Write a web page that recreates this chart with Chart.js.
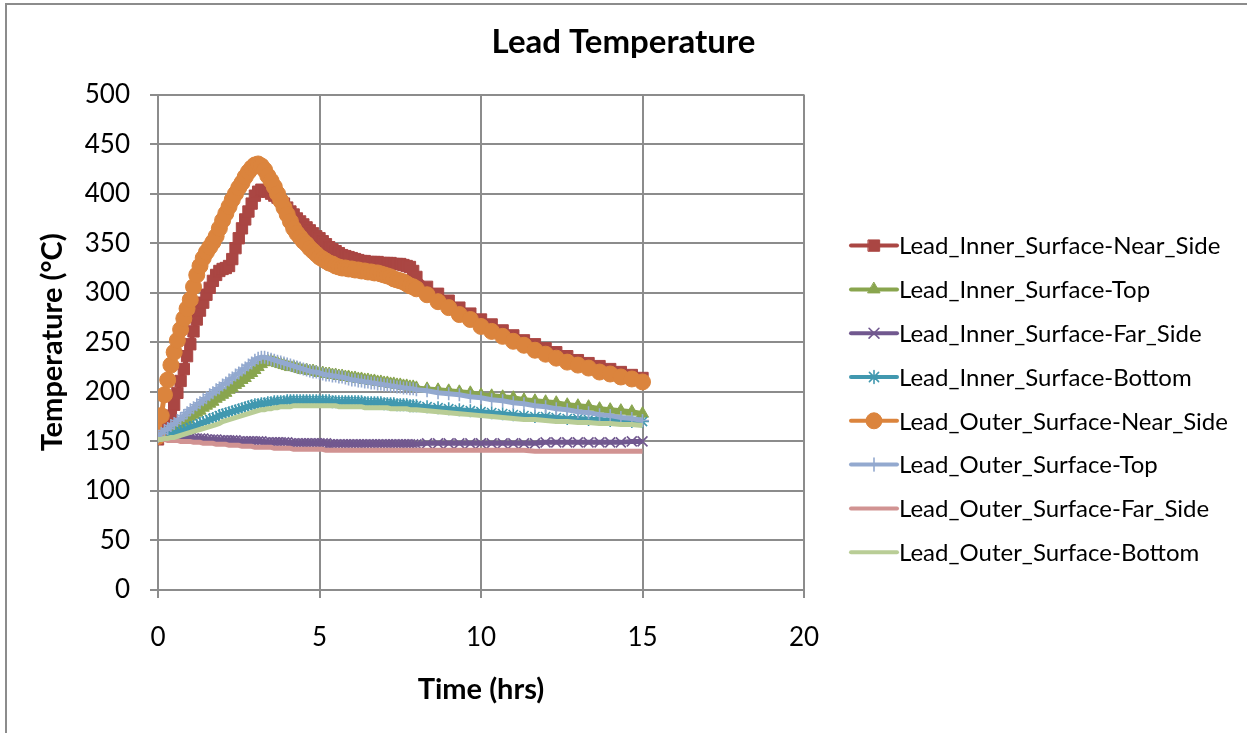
<!DOCTYPE html>
<html>
<head>
<meta charset="utf-8">
<script src="https://cdn.jsdelivr.net/npm/chart.js@4.4.0/dist/chart.umd.min.js"></script>
<style>
  html, body { margin: 0; background: #fff; }
  canvas { display: block; }
</style>
</head>
<body>
<canvas id="chart" width="1247" height="733"></canvas>
<script>
// time in hours; 0.1 h steps up to 8 h, then 20 min steps
const hours = [
  0.0, 0.1, 0.2, 0.3, 0.4, 0.5, 0.6, 0.7, 0.8, 0.9,
  1.0, 1.1, 1.2, 1.3, 1.4, 1.5, 1.6, 1.7, 1.8, 1.9,
  2.0, 2.1, 2.2, 2.3, 2.4, 2.5, 2.6, 2.7, 2.8, 2.9,
  3.0, 3.1, 3.2, 3.3, 3.4, 3.5, 3.6, 3.7, 3.8, 3.9,
  4.0, 4.1, 4.2, 4.3, 4.4, 4.5, 4.6, 4.7, 4.8, 4.9,
  5.0, 5.1, 5.2, 5.3, 5.4, 5.5, 5.6, 5.7, 5.8, 5.9,
  6.0, 6.1, 6.2, 6.3, 6.4, 6.5, 6.6, 6.7, 6.8, 6.9,
  7.0, 7.1, 7.2, 7.3, 7.4, 7.5, 7.6, 7.7, 7.8, 7.9,
  8.0,
  8.33, 8.67, 9.0, 9.33, 9.67, 10.0, 10.33, 10.67, 11.0, 11.33, 11.67,
  12.0, 12.33, 12.67, 13.0, 13.33, 13.67, 14.0, 14.33, 14.67, 15.0
];

const innerNearSide = [
  152, 156, 162, 168, 176, 187, 199, 211, 223, 236,
  248, 261, 273, 282, 290, 298, 305, 312, 318, 322,
  324, 325, 327, 334, 345, 355, 365, 374, 382, 390,
  398, 402, 404, 403, 402, 400, 398, 396, 393, 390,
  386, 382, 379, 375, 372, 369, 366, 363, 360, 357,
  355, 352, 349, 346, 344, 342, 340, 338, 337, 336,
  335, 334, 333, 332, 332, 331, 331, 331, 331, 330,
  330, 330, 330, 329, 329, 329, 328, 327, 326, 322,
  316,
  306, 299, 292, 285, 279, 273, 268, 262, 257, 252, 248,
  244, 240, 236, 232, 229, 226, 223, 220, 217, 214
];
const innerTop = [
  155, 156, 158, 160, 162, 164, 166, 168, 170, 172,
  175, 177, 179, 181, 184, 186, 188, 190, 193, 195,
  197, 199, 202, 204, 207, 209, 212, 214, 217, 219,
  222, 225, 228, 230, 231, 231, 230, 229, 228, 227,
  226, 225, 225, 224, 223, 222, 222, 221, 221, 220,
  219, 219, 218, 218, 217, 217, 216, 216, 215, 215,
  214, 214, 213, 213, 212, 212, 211, 211, 210, 210,
  209, 209, 208, 208, 207, 207, 206, 206, 205, 205,
  204,
  203, 202, 201, 200, 199, 197, 196, 195, 194, 192, 191,
  190, 189, 187, 186, 185, 183, 182, 181, 180, 178
];
const innerFarSide = [
  156, 156, 156, 155, 155, 155, 155, 154, 154, 154,
  154, 153, 153, 153, 153, 152, 152, 152, 152, 151,
  151, 151, 151, 151, 151, 150, 150, 150, 150, 150,
  150, 150, 150, 149, 149, 149, 149, 149, 149, 149,
  149, 148, 148, 148, 148, 148, 148, 148, 148, 148,
  148, 148, 148, 147, 147, 147, 147, 147, 147, 147,
  147, 147, 147, 147, 147, 147, 147, 147, 147, 147,
  147, 147, 147, 147, 147, 147, 147, 147, 147, 147,
  147,
  148, 148, 148, 148, 148, 148, 148, 148, 148, 148, 148,
  149, 149, 149, 149, 149, 149, 149, 149, 150, 150
];
const innerBottom = [
  155, 155, 156, 156, 157, 158, 159, 160, 161, 162,
  164, 165, 166, 168, 169, 170, 172, 173, 174, 176,
  177, 178, 179, 180, 181, 182, 183, 184, 185, 186,
  187, 187, 188, 188, 189, 189, 190, 190, 190, 190,
  191, 191, 191, 191, 191, 191, 191, 191, 191, 191,
  191, 191, 191, 191, 190, 190, 190, 190, 190, 190,
  190, 190, 190, 190, 189, 189, 189, 189, 189, 189,
  188, 188, 188, 188, 187, 187, 187, 187, 186, 186,
  186,
  185, 184, 183, 182, 181, 180, 179, 178, 177, 176, 175,
  175, 174, 173, 173, 172, 172, 171, 171, 170, 170
];
const outerNearSide = [
  155, 176, 197, 212, 227, 240, 252, 263, 274, 284,
  293, 306, 318, 327, 335, 341, 346, 351, 357, 365,
  373, 380, 387, 394, 400, 406, 411, 417, 422, 426,
  429, 430, 428, 424, 418, 413, 407, 400, 393, 386,
  379, 372, 365, 360, 356, 352, 349, 345, 342, 339,
  336, 334, 332, 330, 329, 327, 326, 325, 325, 324,
  324, 323, 323, 322, 322, 321, 321, 320, 320, 319,
  318, 317, 316, 314, 313, 312, 311, 309, 307, 306,
  304,
  298, 291, 285, 278, 273, 266, 261, 256, 251, 247, 242,
  238, 234, 230, 227, 224, 220, 218, 215, 213, 210
];
const outerTop = [
  155, 158, 161, 163, 166, 168, 171, 173, 176, 179,
  182, 184, 187, 189, 192, 194, 197, 199, 202, 204,
  207, 209, 212, 214, 217, 219, 222, 224, 227, 229,
  232, 234, 235, 235, 234, 233, 232, 231, 230, 229,
  228, 227, 226, 225, 224, 223, 222, 221, 220, 220,
  219, 218, 217, 217, 216, 216, 215, 215, 214, 213,
  212, 212, 211, 211, 210, 210, 209, 209, 208, 208,
  207, 207, 206, 206, 205, 205, 204, 204, 203, 203,
  202,
  201, 199, 198, 197, 195, 194, 192, 191, 189, 188, 186,
  185, 183, 182, 180, 179, 177, 176, 174, 173, 171
];
const outerFarSide = [
  152, 152, 152, 151, 151, 151, 151, 150, 150, 150,
  150, 149, 149, 149, 148, 148, 148, 148, 147, 147,
  147, 147, 146, 146, 146, 146, 145, 145, 145, 145,
  144, 144, 144, 144, 144, 144, 143, 143, 143, 143,
  143, 143, 142, 142, 142, 142, 142, 142, 142, 142,
  142, 142, 141, 141, 141, 141, 141, 141, 141, 141,
  141, 141, 141, 141, 141, 141, 141, 141, 141, 141,
  141, 141, 141, 141, 141, 141, 141, 141, 141, 141,
  141,
  141, 141, 141, 141, 141, 141, 141, 141, 141, 141, 140,
  140, 140, 140, 140, 140, 140, 140, 140, 140, 140
];
const outerBottom = [
  152, 152, 153, 153, 154, 154, 155, 156, 157, 158,
  159, 160, 161, 162, 163, 164, 165, 166, 167, 168,
  170, 171, 172, 173, 174, 175, 176, 177, 178, 179,
  180, 181, 182, 182, 183, 183, 184, 184, 185, 185,
  185, 185, 186, 186, 186, 186, 186, 186, 186, 186,
  186, 186, 186, 186, 186, 186, 185, 185, 185, 185,
  185, 185, 185, 185, 184, 184, 184, 184, 184, 184,
  184, 184, 183, 183, 183, 183, 183, 183, 182, 182,
  182,
  181, 180, 179, 178, 177, 176, 175, 174, 173, 172, 172,
  171, 170, 170, 169, 169, 168, 168, 167, 167, 166
];

const seriesNames = [
  'Lead_Inner_Surface-Near_Side',
  'Lead_Inner_Surface-Top',
  'Lead_Inner_Surface-Far_Side',
  'Lead_Inner_Surface-Bottom',
  'Lead_Outer_Surface-Near_Side',
  'Lead_Outer_Surface-Top',
  'Lead_Outer_Surface-Far_Side',
  'Lead_Outer_Surface-Bottom'
];
const seriesValues = [innerNearSide, innerTop, innerFarSide, innerBottom,
  outerNearSide, outerTop, outerFarSide, outerBottom];

// excel 2007 palette + marker per series
const styles = [
  { color: '#AA4643', point: 'rect', radius: 8, border: 1 },
  { color: '#89A54E', point: 'triangle', radius: 7, border: 1 },
  { color: '#71588F', point: 'crossRot', radius: 7, border: 1.6 },
  { color: '#4198AF', point: 'star', radius: 6.5, border: 1.6 },
  { color: '#DB843D', point: 'circle', radius: 8, border: 1 },
  { color: '#93A9CF', point: 'cross', radius: 6.5, border: 1.6 },
  { color: '#D19392', point: false, radius: 0, border: 0 },
  { color: '#B9CD96', point: false, radius: 0, border: 0 }
];

const FONT = 'Lato';
const GRID = '#8c8c8c';

const datasets = seriesNames.map((name, i) => ({
  label: name,
  data: hours.map((h, j) => ({ x: h, y: seriesValues[i][j] })),
  borderColor: styles[i].color,
  backgroundColor: styles[i].color,
  borderWidth: 5,
  pointStyle: styles[i].point,
  pointRadius: styles[i].radius,
  pointBorderWidth: styles[i].border,
  pointBackgroundColor: styles[i].color,
  pointBorderColor: styles[i].color,
  tension: 0,
  order: seriesNames.length - i   // later series on top, like excel
}));

// legend with line + marker, drawn to the right of the plot
const sideLegend = {
  id: 'sideLegend',
  afterDraw(chart) {
    const ctx = chart.ctx;
    const area = chart.chartArea;
    const x0 = area.right + 47;
    const x1 = area.right + 93;
    const firstY = area.top + 151;
    const step = 43.8;
    ctx.save();
    ctx.font = '24px ' + FONT;
    ctx.textBaseline = 'middle';
    ctx.textAlign = 'left';
    seriesNames.forEach((name, i) => {
      const y = firstY + i * step;
      const st = styles[i];
      ctx.strokeStyle = st.color;
      ctx.fillStyle = st.color;
      ctx.lineWidth = 4;
      ctx.lineCap = 'round';
      ctx.beginPath();
      ctx.moveTo(x0, y);
      ctx.lineTo(x1, y);
      ctx.stroke();
      if (st.point && Chart.helpers && Chart.helpers.drawPoint) {
        ctx.lineWidth = st.border;
        Chart.helpers.drawPoint(ctx, {
          pointStyle: st.point, rotation: 0, radius: st.radius, borderWidth: st.border
        }, (x0 + x1) / 2, y);
      }
      ctx.fillStyle = '#000';
      ctx.fillText(name, x1 + 2, y + 1);
    });
    ctx.restore();
  }
};

// outer frame of the chart object (only top/left edge visible)
const frame = {
  id: 'frame',
  beforeDraw(chart) {
    const ctx = chart.ctx;
    ctx.save();
    ctx.fillStyle = '#fff';
    ctx.fillRect(0, 0, chart.width, chart.height);
    ctx.strokeStyle = '#8c8c8c';
    ctx.lineWidth = 2;
    ctx.beginPath();
    ctx.moveTo(6, chart.height);
    ctx.lineTo(6, 4);
    ctx.lineTo(chart.width, 4);
    ctx.stroke();
    ctx.restore();
  }
};

new Chart(document.getElementById('chart'), {
  type: 'line',
  data: { datasets },
  plugins: [frame, sideLegend],
  options: {
    responsive: false,
    devicePixelRatio: 1,
    animation: false,
    plugins: {
      legend: { display: false },
      tooltip: { enabled: false },
      title: {
        display: true,
        text: 'Lead Temperature',
        color: '#000',
        font: { family: FONT, size: 33, weight: 'bold' },
        padding: { top: 23, bottom: 32 }
      }
    },
    scales: {
      x: {
        type: 'linear',
        min: 0,
        max: 20,
        afterFit(scale) { scale.height = 143; },
        ticks: { stepSize: 5, color: '#000', font: { family: FONT, size: 26 }, padding: 24, maxRotation: 0 },
        grid: { color: GRID, lineWidth: 2, tickLength: 8 },
        border: { color: GRID, width: 2 },
        title: {
          display: true,
          text: 'Time (hrs)',
          color: '#000',
          font: { family: FONT, size: 29, weight: 'bold' },
          padding: { top: 0, bottom: 26 }
        }
      },
      y: {
        min: 0,
        max: 500,
        afterFit(scale) { scale.width = 158; },
        ticks: { stepSize: 50, color: '#000', font: { family: FONT, size: 26 }, padding: 20 },
        grid: { color: GRID, lineWidth: 2, tickLength: 8 },
        border: { color: GRID, width: 2 },
        title: {
          display: true,
          text: 'Temperature (°C)',
          color: '#000',
          font: { family: FONT, size: 29, weight: 'bold' },
          padding: { top: 35, bottom: 0 }
        }
      },
      // empty right-hand axis that only reserves room for the legend
      legendSpace: {
        type: 'linear',
        position: 'right',
        display: true,
        afterFit(scale) { scale.width = 443; },
        ticks: { display: false },
        grid: { display: false, drawOnChartArea: false },
        border: { display: false }
      }
    }
  }
});
</script>
</body>
</html>
